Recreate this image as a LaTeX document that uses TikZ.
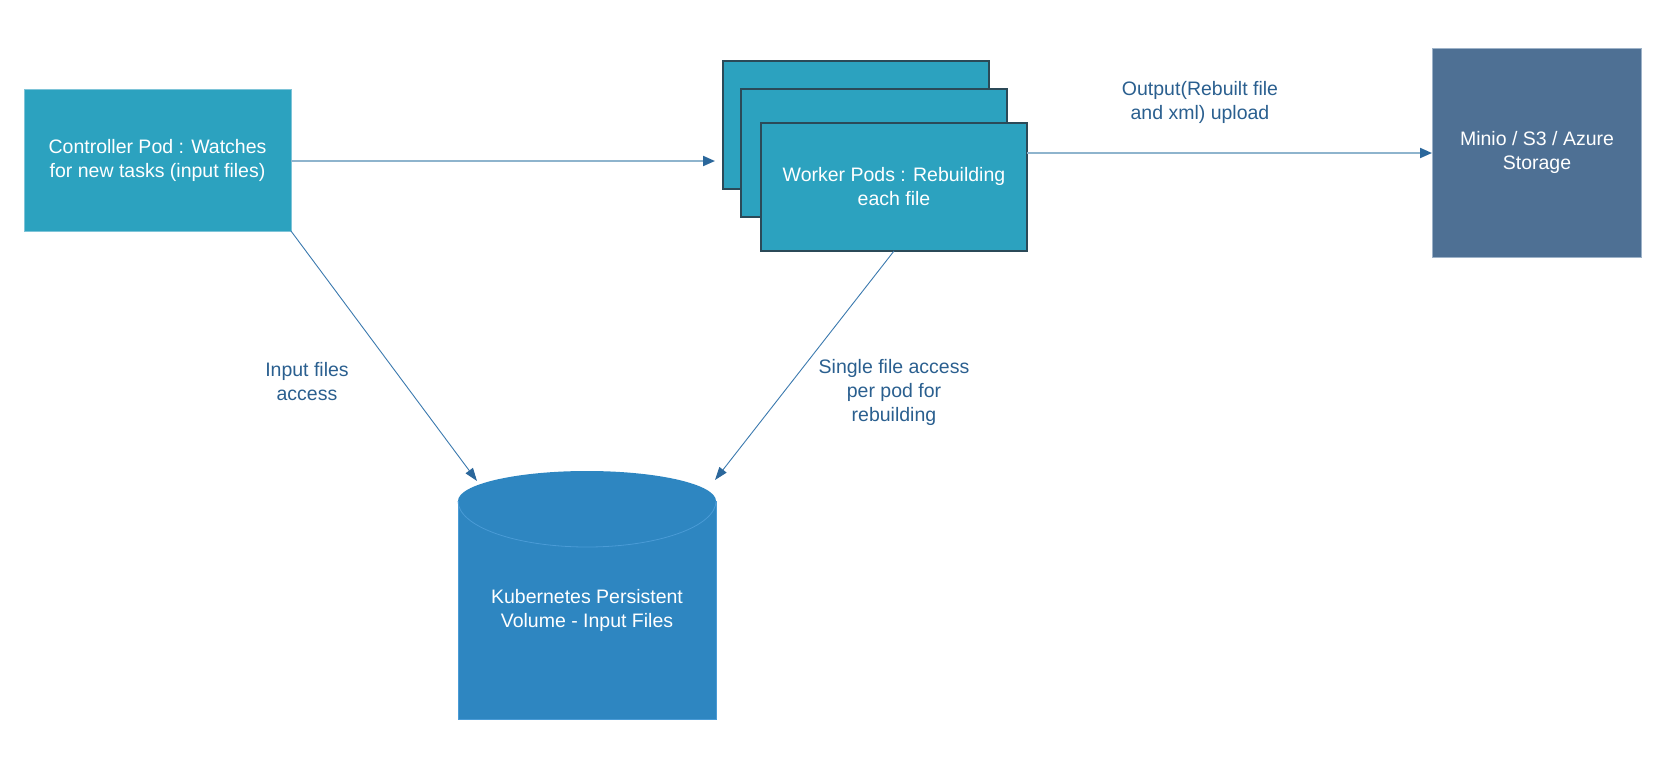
\documentclass[tikz,border=0pt]{standalone}
\usepackage{fontspec}
\setmainfont{Liberation Sans}
\usetikzlibrary{arrows.meta}
\definecolor{pod}{HTML}{2CA2BF}
\definecolor{podedge}{HTML}{7EC4D8}
\definecolor{darkedge}{HTML}{2B4A58}
\definecolor{store}{HTML}{4E7094}
\definecolor{storeedge}{HTML}{9DB2C8}
\definecolor{cyl}{HTML}{2E86C1}
\definecolor{cylline}{HTML}{4A9BD6}
\definecolor{lbl}{HTML}{2A5F8F}
\definecolor{hline}{HTML}{8EB4CD}
\definecolor{tip}{HTML}{2B679B}
\definecolor{dline}{HTML}{3B79AE}
\begin{document}
\begin{tikzpicture}[x=1pt,y=-1pt,
  txt/.style={font=\fontsize{19.5}{24}\selectfont, align=center},
  boxtxt/.style={txt, text=white},
  lbltxt/.style={txt, text=lbl},
  podbox/.style={draw=darkedge, line width=1.3pt, fill=pod},
  harrow/.style={draw=hline, line width=2pt, -{Triangle[length=12pt,width=10pt,color=tip]}},
  darrow/.style={draw=dline, line width=0.9pt, -{Triangle[length=13pt,width=9pt,color=tip]}}]
\useasboundingbox (0,0) rectangle (1666,772);
% controller
\path[fill=pod, draw=podedge, line width=0.8pt] (24,89) rectangle (291,231);
\node[boxtxt] (ctrl) at (157.5,160) {Controller Pod : Watches\\for new tasks (input files)};
\coordinate (ctrlR) at (291,161);
\coordinate (ctrlSE) at (291,231);
% worker pods
\path[podbox] (723,61) rectangle (989,189);
\path[podbox] (741,89) rectangle (1007,217);
\path[podbox] (761,123) rectangle (1027,251);
\node[boxtxt] (work) at (894,187) {Worker Pods : Rebuilding\\each file};
\coordinate (workIn) at (715,161);
\coordinate (workR) at (1027,153);
\coordinate (workB) at (894,251);
% storage
\path[fill=store, draw=storeedge, line width=0.8pt] (1432,48) rectangle (1641,257);
\node[boxtxt] (store) at (1537,152) {Minio / S3 / Azure\\Storage};
\coordinate (storeL) at (1432,153);
% cylinder
\path[fill=cyl] (458,501) arc[start angle=180, end angle=360, x radius=129, y radius=30] -- (716,719) -- (458,719) -- cycle;
\draw[cylline, line width=0.8pt] (458,501) arc[start angle=180, end angle=0, x radius=129, y radius=46];
\draw[cylline, line width=0.6pt] (458,501) -- (458,719) -- (716,719) -- (716,501);
\node[boxtxt] (pv) at (587,610) {Kubernetes Persistent\\Volume - Input Files};
\coordinate (pvL) at (477,481);
\coordinate (pvR) at (715,480);
% connectors
\draw[harrow] (ctrlR) -- (workIn);
\draw[harrow] (workR) -- (storeL);
\draw[darrow] (ctrlSE) -- (pvL);
\draw[darrow] (workB) -- (pvR);
% labels
\node[lbltxt] (l1) at (1200,102) {Output(Rebuilt file\\and xml) upload};
\node[lbltxt] (l2) at (307,382) {Input files\\access};
\node[lbltxt] (l3) at (894,392) {Single file access\\per pod for\\rebuilding};
\end{tikzpicture}
\end{document}
